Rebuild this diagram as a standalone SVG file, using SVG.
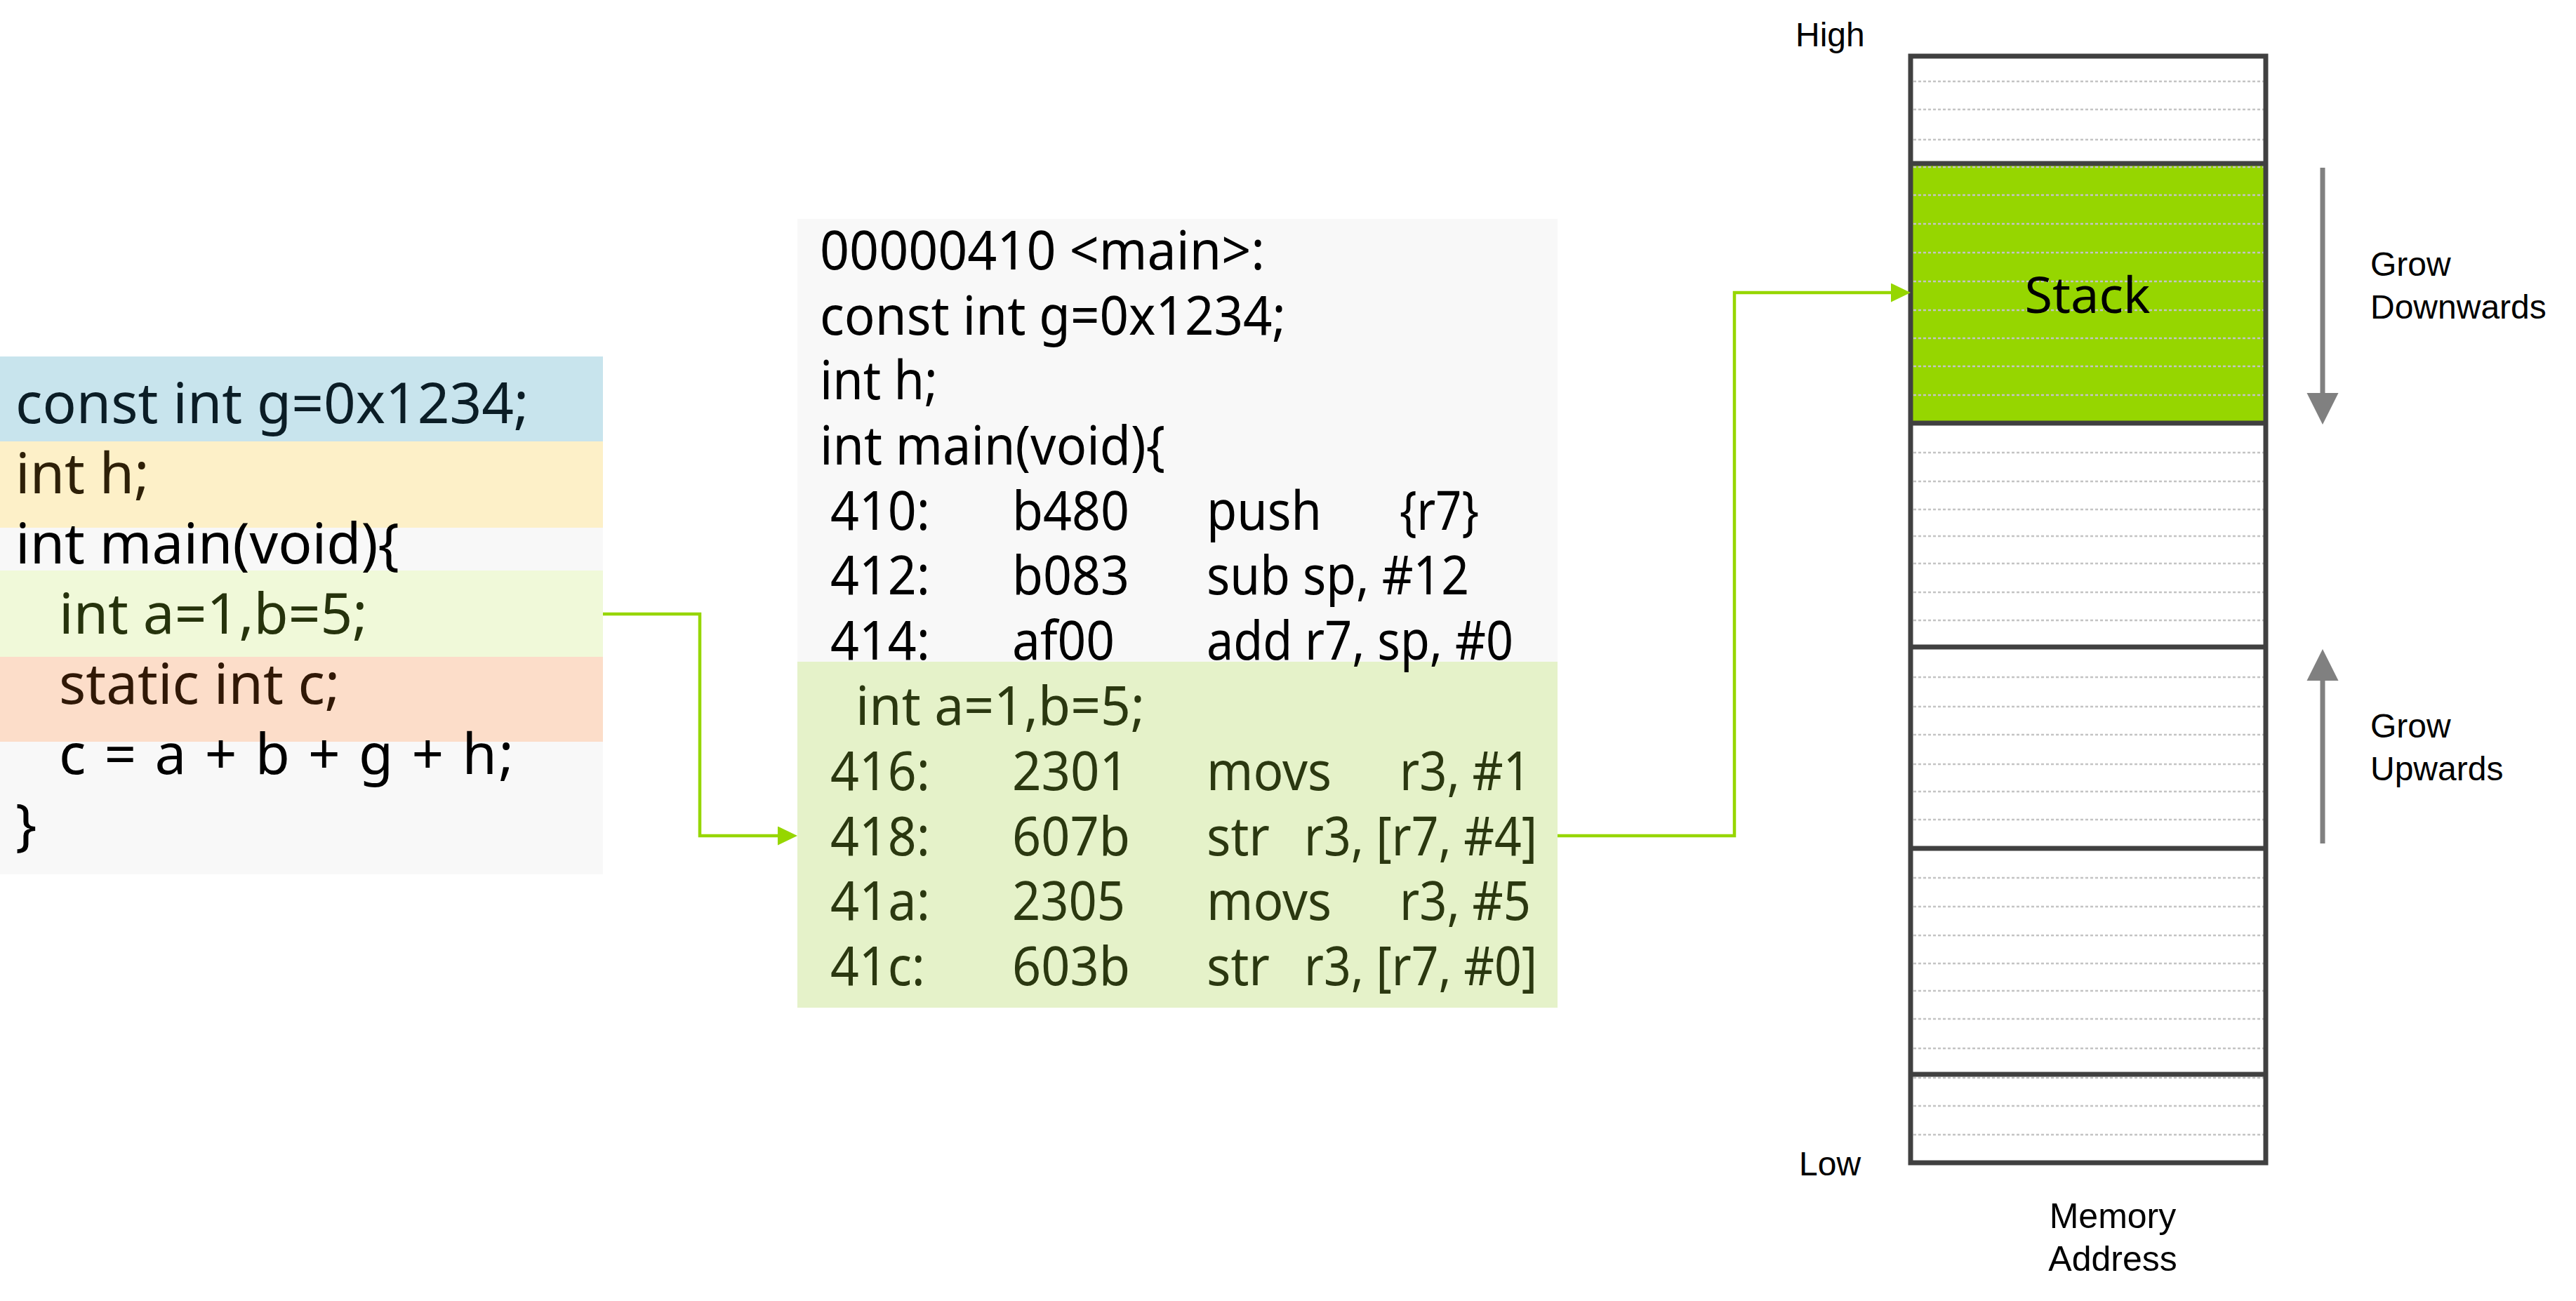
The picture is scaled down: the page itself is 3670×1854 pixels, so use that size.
<svg xmlns="http://www.w3.org/2000/svg" width="3670" height="1854" viewBox="0 0 3670 1854">
<defs>
<style>
.code{font-family:"Noto Sans","DejaVu Sans",sans-serif;font-size:80px;fill:#000}
.asm{font-family:"Noto Sans","DejaVu Sans",sans-serif;font-size:77px;fill:#000}
.asmg{fill:#2b3810}
.lbl{font-family:"Liberation Sans",Arial,sans-serif;font-size:48px;fill:#000}
.lbl2{font-family:"Liberation Sans",Arial,sans-serif;font-size:50px;fill:#000}
.stk{font-family:"Noto Sans","DejaVu Sans",sans-serif;font-size:72px;fill:#000}
.dot{stroke:#c4c4c4;stroke-width:2.5;stroke-dasharray:4 3;fill:none}
.bd{stroke:#404040;stroke-width:7;fill:none}
.conn{stroke:#96d600;stroke-width:4.5;fill:none}
.grow{fill:#808080}
</style>
<marker id="ah" markerUnits="userSpaceOnUse" markerWidth="28" markerHeight="27" refX="0" refY="13.5" orient="auto">
<path d="M0,0 L28,13.5 L0,27 Z" fill="#96d600"/>
</marker>
</defs>
<rect width="3670" height="1854" fill="#ffffff"/>

<g id="source-code">
<rect x="0" y="508" width="859" height="121" fill="#c8e4ed"/>
<rect x="0" y="629" width="859" height="123" fill="#fdf0c8"/>
<rect x="0" y="752" width="859" height="61" fill="#f8f8f8"/>
<rect x="0" y="813" width="859" height="123" fill="#f0f9d9"/>
<rect x="0" y="936" width="859" height="121" fill="#fcddc9"/>
<rect x="0" y="1057" width="859" height="189" fill="#f8f8f8"/>
<text class="code" x="22" y="603" style="fill:#0b1d26">const int g=0x1234;</text>
<text class="code" x="22" y="703" style="fill:#2e2008">int h;</text>
<text class="code" x="22" y="803">int main(void){</text>
<text class="code" x="84" y="903" style="fill:#26330c">int a=1,b=5;</text>
<text class="code" x="84" y="1003" style="fill:#301806">static int c;</text>
<text class="code" x="84" y="1103" textLength="648" lengthAdjust="spacing">c = a + b + g + h;</text>
<text class="code" x="22" y="1203">}</text>
</g>

<g id="asm-code">
<rect x="1136" y="312" width="1083" height="631" fill="#f8f8f8"/>
<rect x="1136" y="943" width="1083" height="493" fill="#e5f2c9"/>
<text class="asm" x="1168" y="384" textLength="634" lengthAdjust="spacingAndGlyphs">00000410 &lt;main&gt;:</text>
<text class="asm" x="1168" y="477" textLength="664" lengthAdjust="spacingAndGlyphs">const int g=0x1234;</text>
<text class="asm" x="1168" y="569" textLength="168" lengthAdjust="spacingAndGlyphs">int h;</text>
<text class="asm" x="1168" y="662" textLength="492" lengthAdjust="spacingAndGlyphs">int main(void){</text>
<text class="asm" x="1183" y="755" textLength="142" lengthAdjust="spacingAndGlyphs">410:</text>
<text class="asm" x="1442" y="755" textLength="167" lengthAdjust="spacingAndGlyphs">b480</text>
<text class="asm" x="1719" y="755" textLength="164" lengthAdjust="spacingAndGlyphs">push</text>
<text class="asm" x="1994" y="755" textLength="113" lengthAdjust="spacingAndGlyphs">{r7}</text>
<text class="asm" x="1183" y="847" textLength="142" lengthAdjust="spacingAndGlyphs">412:</text>
<text class="asm" x="1442" y="847" textLength="167" lengthAdjust="spacingAndGlyphs">b083</text>
<text class="asm" x="1719" y="847" textLength="374" lengthAdjust="spacingAndGlyphs">sub sp, #12</text>
<text class="asm" x="1183" y="940" textLength="142" lengthAdjust="spacingAndGlyphs">414:</text>
<text class="asm" x="1442" y="940" textLength="146" lengthAdjust="spacingAndGlyphs">af00</text>
<text class="asm" x="1719" y="940" textLength="437" lengthAdjust="spacingAndGlyphs">add r7, sp, #0</text>
<g class="asmg">
<text class="asm asmg" x="1219" y="1033" textLength="412" lengthAdjust="spacingAndGlyphs">int a=1,b=5;</text>
<text class="asm asmg" x="1183" y="1126" textLength="142" lengthAdjust="spacingAndGlyphs">416:</text>
<text class="asm asmg" x="1442" y="1126" textLength="166" lengthAdjust="spacingAndGlyphs">2301</text>
<text class="asm asmg" x="1719" y="1126" textLength="178" lengthAdjust="spacingAndGlyphs">movs</text>
<text class="asm asmg" x="1994" y="1126" textLength="187" lengthAdjust="spacingAndGlyphs">r3, #1</text>
<text class="asm asmg" x="1183" y="1219" textLength="142" lengthAdjust="spacingAndGlyphs">418:</text>
<text class="asm asmg" x="1442" y="1219" textLength="168" lengthAdjust="spacingAndGlyphs">607b</text>
<text class="asm asmg" x="1719" y="1219" textLength="90" lengthAdjust="spacingAndGlyphs">str</text>
<text class="asm asmg" x="1858" y="1219" textLength="332" lengthAdjust="spacingAndGlyphs">r3, [r7, #4]</text>
<text class="asm asmg" x="1183" y="1311" textLength="142" lengthAdjust="spacingAndGlyphs">41a:</text>
<text class="asm asmg" x="1442" y="1311" textLength="161" lengthAdjust="spacingAndGlyphs">2305</text>
<text class="asm asmg" x="1719" y="1311" textLength="178" lengthAdjust="spacingAndGlyphs">movs</text>
<text class="asm asmg" x="1994" y="1311" textLength="187" lengthAdjust="spacingAndGlyphs">r3, #5</text>
<text class="asm asmg" x="1183" y="1404" textLength="135" lengthAdjust="spacingAndGlyphs">41c:</text>
<text class="asm asmg" x="1442" y="1404" textLength="168" lengthAdjust="spacingAndGlyphs">603b</text>
<text class="asm asmg" x="1719" y="1404" textLength="90" lengthAdjust="spacingAndGlyphs">str</text>
<text class="asm asmg" x="1858" y="1404" textLength="332" lengthAdjust="spacingAndGlyphs">r3, [r7, #0]</text>
</g>
</g>

<g id="memory-map">
<rect x="2722" y="233" width="506" height="370" fill="#96d600"/>
<g class="dots">
<path class="dot" d="M2726,116H3225M2726,156H3225M2726,199H3225M2726,238H3225M2726,278H3225M2726,319H3225M2726,360H3225M2726,401H3225M2726,442H3225M2726,482H3225M2726,522H3225M2726,563H3225"/>
<path class="dot" d="M2726,645H3225M2726,686H3225M2726,726H3225M2726,764H3225M2726,803H3225M2726,844H3225M2726,884H3225"/>
<path class="dot" d="M2726,965H3225M2726,1007H3225M2726,1047H3225M2726,1089H3225M2726,1128H3225M2726,1168H3225"/>
<path class="dot" d="M2726,1251H3225M2726,1292H3225M2726,1333H3225M2726,1373H3225M2726,1412H3225M2726,1452H3225M2726,1494H3225M2726,1536H3225M2726,1576H3225M2726,1617H3225"/>
</g>
<rect class="bd" x="2722" y="80" width="506" height="1577"/>
<path class="bd" d="M2722,233H3228M2722,603H3228M2722,922H3228M2722,1209H3228M2722,1531H3228"/>
<text class="stk" x="2974" y="446" text-anchor="middle">Stack</text>
</g>

<g id="labels">
<text class="lbl" x="2558" y="66">High</text>
<text class="lbl" x="2563" y="1675">Low</text>
<text class="lbl2" x="3010" y="1750" text-anchor="middle">Memory</text>
<text class="lbl2" x="3010" y="1811" text-anchor="middle">Address</text>
</g>

<g id="grow-down">
<rect class="grow" x="3305.5" y="239" width="7" height="322"/>
<path class="grow" d="M3286.5,560 L3331.5,560 L3309,605 Z"/>
<text class="lbl" x="3377" y="393">Grow</text>
<text class="lbl" x="3377" y="454">Downwards</text>
</g>

<g id="grow-up">
<rect class="grow" x="3305.5" y="969" width="7" height="233"/>
<path class="grow" d="M3286.5,970 L3331.5,970 L3309,925 Z"/>
<text class="lbl" x="3377" y="1051">Grow</text>
<text class="lbl" x="3377" y="1112">Upwards</text>
</g>

<g id="connectors">
<polyline class="conn" points="859,875 997,875 997,1191 1108,1191" marker-end="url(#ah)"/>
<polyline class="conn" points="2219,1191 2471,1191 2471,417 2694,417" marker-end="url(#ah)"/>
</g>
</svg>
